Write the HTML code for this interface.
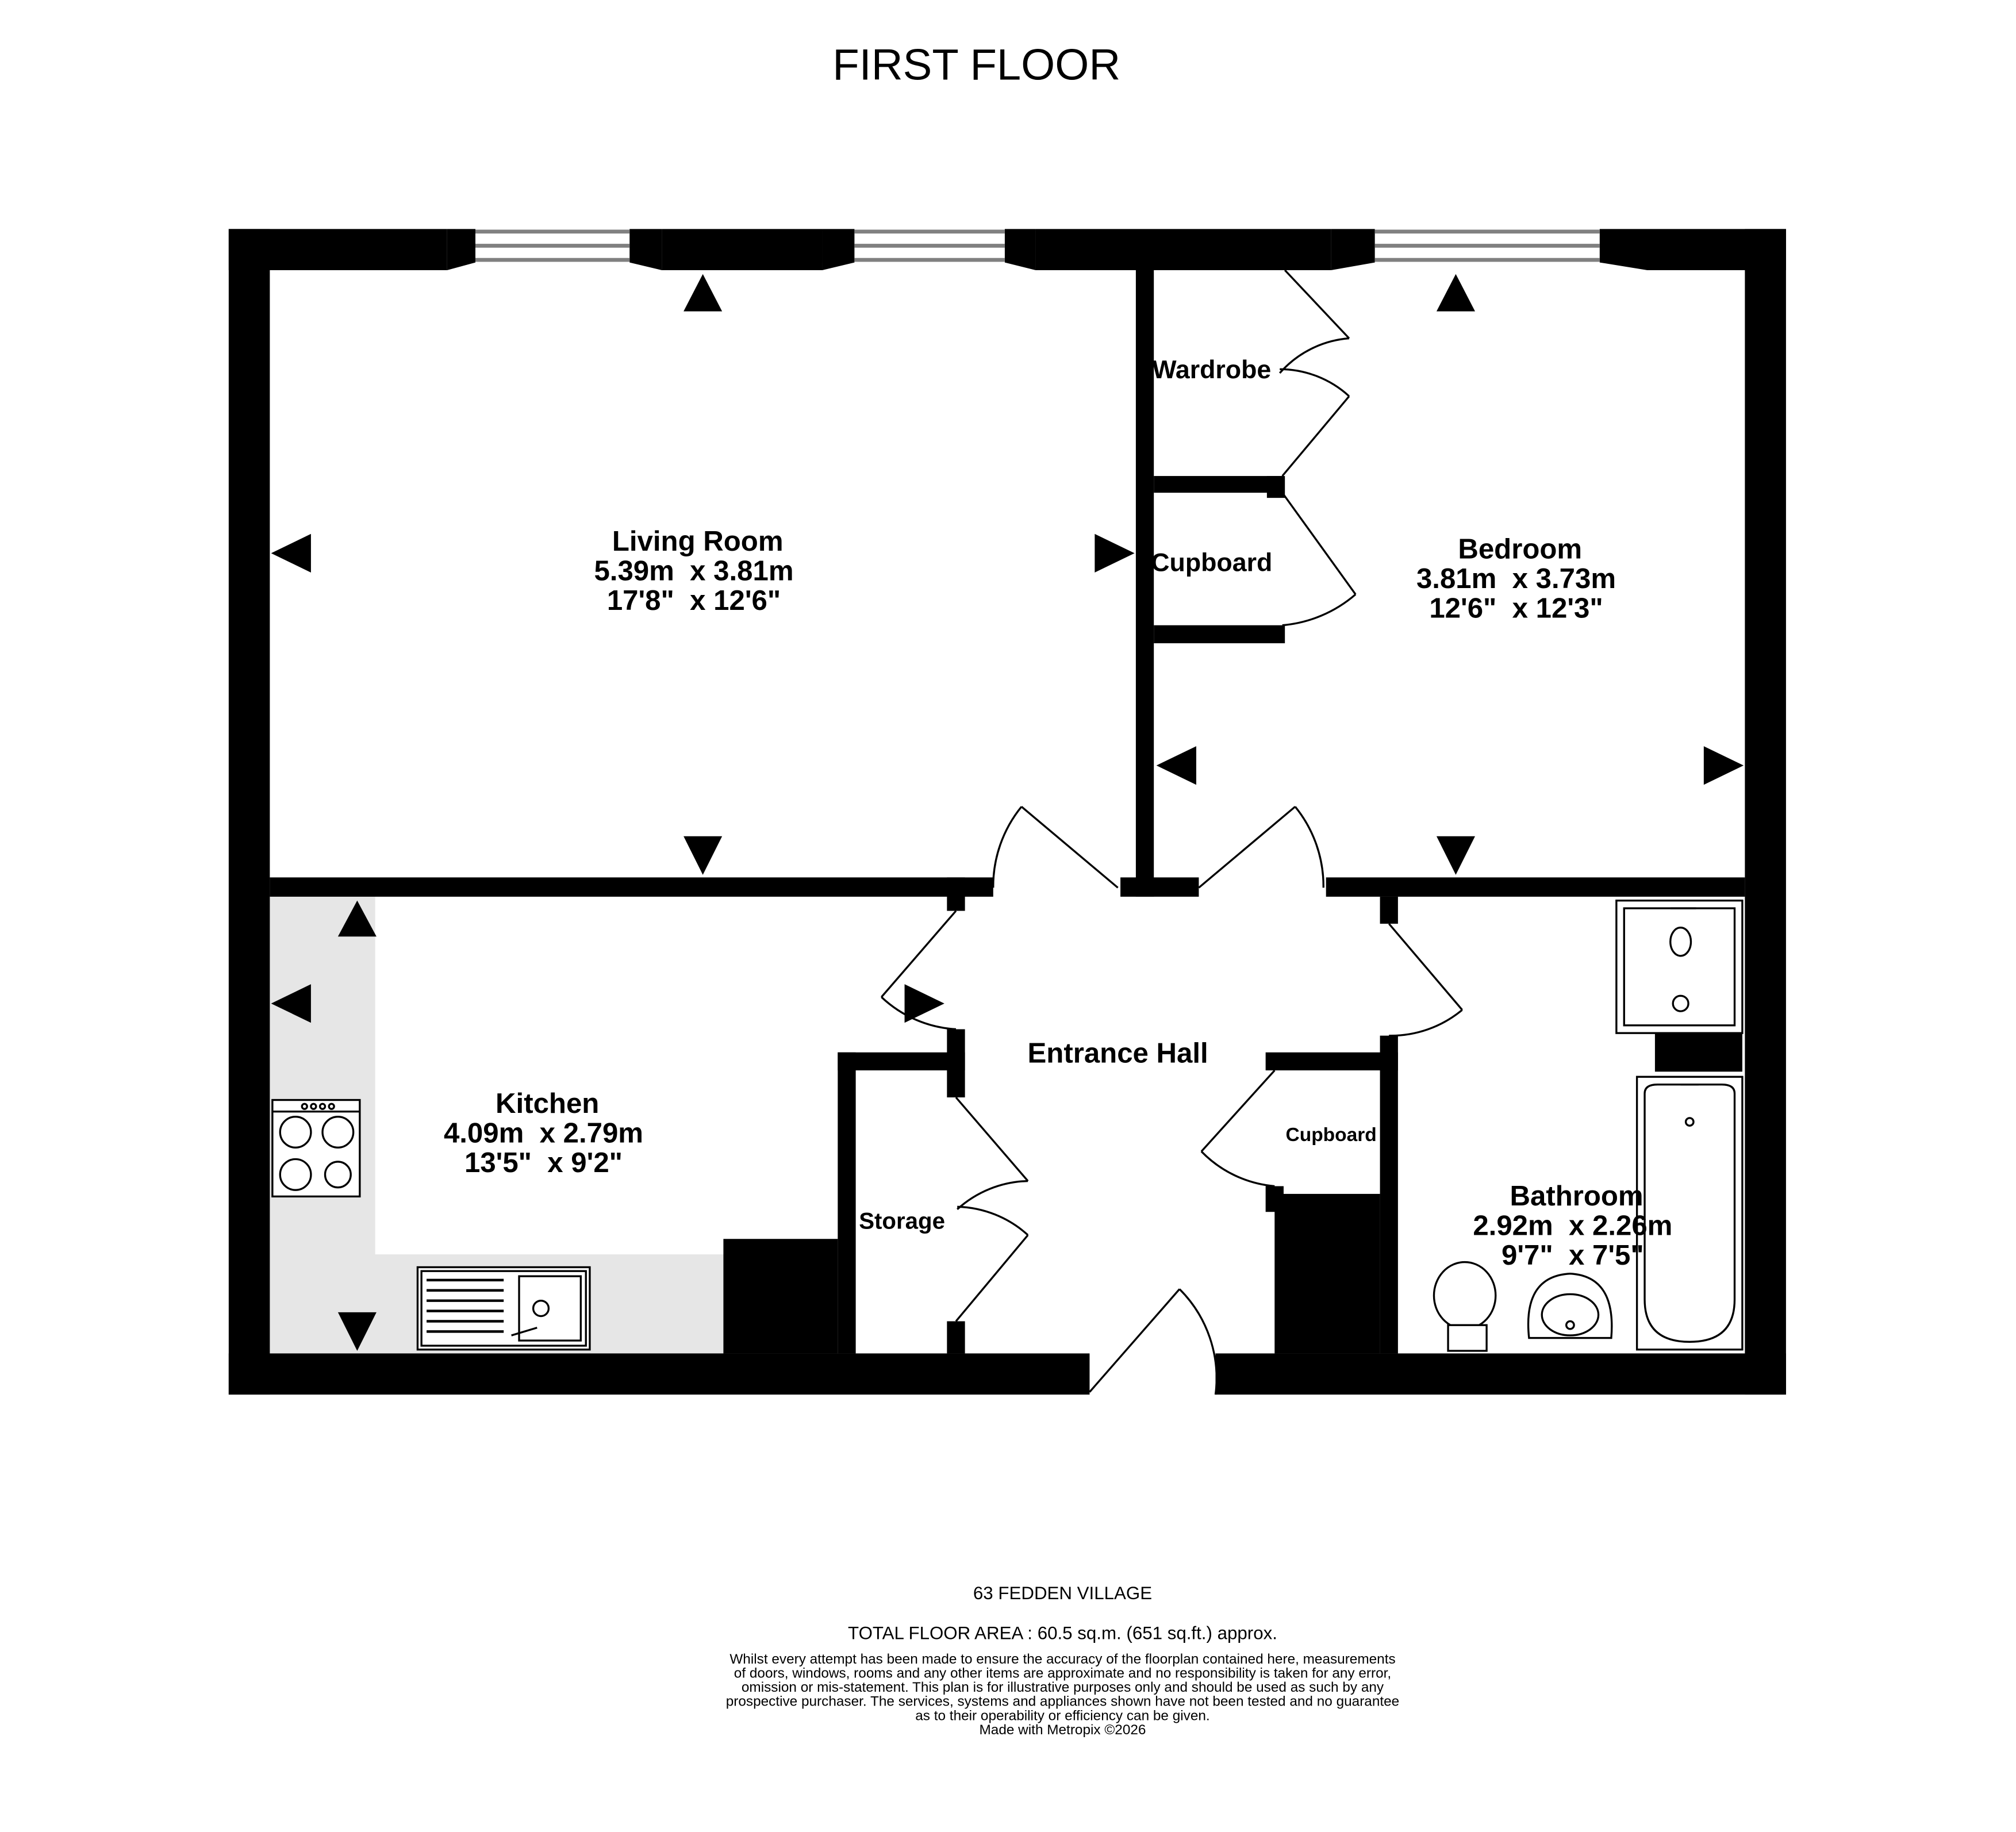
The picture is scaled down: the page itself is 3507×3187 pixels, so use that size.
<!DOCTYPE html>
<html><head><meta charset="utf-8"><style>
html,body{margin:0;padding:0;background:#fff}
svg{display:block}
text{font-family:"Liberation Sans",Arial,sans-serif}
</style></head><body>
<svg width="3507" height="3187" viewBox="0 0 1569 1424" preserveAspectRatio="none" xmlns="http://www.w3.org/2000/svg">
<rect width="1569" height="1424" fill="#fff"/>
<text x="760" y="62" font-size="34" text-anchor="middle">FIRST FLOOR</text>

<path d="M210 697H292V975H563V1052H210Z" fill="#e6e6e6"/>

<g fill="#000">
<rect x="178" y="178" width="32" height="906"/>
<rect x="1358" y="178" width="32" height="906"/>
<rect x="178" y="178" width="170" height="32"/>
<rect x="515" y="178" width="125" height="32"/>
<rect x="806" y="178" width="230" height="32"/>
<rect x="1282" y="178" width="108" height="32"/>
<rect x="178" y="1052" width="670" height="32"/>
<rect x="946" y="1052" width="444" height="32"/>
<polygon points="348,178 370,178 370,204 348,210"/>
<polygon points="490,178 515,178 515,210 490,204"/>
<polygon points="640,178 665,178 665,204 640,210"/>
<polygon points="782,178 806,178 806,210 782,204"/>
<polygon points="1036,178 1070,178 1070,204 1036,210"/>
<polygon points="1245,178 1282,178 1282,210 1245,204"/>
</g>
<g stroke="#808080" stroke-width="3">
<line x1="370" y1="180" x2="490" y2="180"/><line x1="370" y1="191" x2="490" y2="191"/><line x1="370" y1="202" x2="490" y2="202"/>
<line x1="665" y1="180" x2="782" y2="180"/><line x1="665" y1="191" x2="782" y2="191"/><line x1="665" y1="202" x2="782" y2="202"/>
<line x1="1070" y1="180" x2="1245" y2="180"/><line x1="1070" y1="191" x2="1245" y2="191"/><line x1="1070" y1="202" x2="1245" y2="202"/>
</g>

<g fill="#000">
<rect x="210" y="682" width="563" height="15"/>
<rect x="872" y="682" width="61" height="15"/>
<rect x="1032" y="682" width="326" height="15"/>
<rect x="884" y="210" width="14" height="487"/>
<rect x="898" y="370" width="100" height="13"/>
<rect x="986" y="370" width="14" height="17"/>
<rect x="898" y="486" width="102" height="14"/>
<rect x="737" y="682" width="14" height="26"/>
<rect x="737" y="800" width="14" height="53"/>
<rect x="737" y="1027" width="14" height="25"/>
<rect x="652" y="818" width="99" height="14"/>
<rect x="652" y="818" width="14" height="234"/>
<rect x="1074" y="697" width="14" height="21"/>
<rect x="1074" y="805" width="14" height="247"/>
<rect x="985" y="818" width="103" height="14"/>
<rect x="985" y="922" width="14" height="20"/>
<rect x="992" y="928" width="82" height="124"/>
<rect x="563" y="963" width="89" height="89"/>
<rect x="1288" y="803" width="68" height="30"/>
</g>

<g fill="none" stroke="#000" stroke-width="1.5">
<line x1="870" y1="690" x2="795" y2="627"/><path d="M795 627 A98 98 0 0 0 773 690"/>
<line x1="933" y1="690" x2="1008" y2="627"/><path d="M1008 627 A98 98 0 0 1 1030 690"/>
<line x1="744" y1="708" x2="686" y2="775"/><path d="M686 775 A92 92 0 0 0 744 800"/>
<line x1="1081" y1="718" x2="1138" y2="785"/><path d="M1138 785 A87 87 0 0 1 1081 805"/>
<line x1="848" y1="1082" x2="918" y2="1002"/><path d="M918 1002 A98 98 0 0 1 946 1084"/>
<line x1="992" y1="832" x2="935" y2="895"/><path d="M935 895 A90 90 0 0 0 992 922"/>
<line x1="744" y1="853" x2="800" y2="918"/><path d="M800 918 A85 85 0 0 0 745 940"/>
<line x1="744" y1="1027" x2="800" y2="960"/><path d="M800 960 A85 85 0 0 0 745 938"/>
<line x1="1000" y1="210" x2="1050" y2="263"/><path d="M1050 263 A80 80 0 0 0 996 290"/>
<line x1="998" y1="370" x2="1050" y2="308"/><path d="M1050 308 A80 80 0 0 0 996 287"/>
<line x1="998" y1="383" x2="1055" y2="462"/><path d="M1055 462 A100 100 0 0 1 998 486"/>
</g>

<g fill="#000">
<polygon points="547,213 532,242 562,242"/>
<polygon points="211,430 242,415 242,445"/>
<polygon points="883,430 852,415 852,445"/>
<polygon points="547,680 532,650 562,650"/>
<polygon points="1133,213 1118,242 1148,242"/>
<polygon points="900,595 931,580 931,610"/>
<polygon points="1357,595 1326,580 1326,610"/>
<polygon points="1133,680 1118,650 1148,650"/>
<polygon points="278,700 263,728 293,728"/>
<polygon points="211,780 242,765 242,795"/>
<polygon points="735,780 704,765 704,795"/>
<polygon points="278,1050 263,1020 293,1020"/>
</g>

<g fill="#fff" stroke="#000" stroke-width="1.5">
<rect x="212" y="855" width="68" height="75"/>
<line x1="212" y1="864" x2="280" y2="864"/>
<circle cx="230" cy="880" r="12"/><circle cx="263" cy="880" r="12"/>
<circle cx="230" cy="913" r="12"/><circle cx="263" cy="913" r="10"/>
<circle cx="237" cy="860" r="2"/><circle cx="244" cy="860" r="2"/><circle cx="251" cy="860" r="2"/><circle cx="258" cy="860" r="2"/>
</g>
<g fill="#fff" stroke="#000" stroke-width="1.5">
<rect x="325" y="985" width="134" height="64"/>
<rect x="328" y="988" width="128" height="58"/>
<rect x="404" y="992" width="48" height="50"/>
<circle cx="421" cy="1017" r="6"/>
<path d="M398 1038 L418 1032"/>
</g>
<g stroke="#000" stroke-width="2">
<line x1="332" y1="995" x2="392" y2="995"/><line x1="332" y1="1003" x2="392" y2="1003"/>
<line x1="332" y1="1011" x2="392" y2="1011"/><line x1="332" y1="1019" x2="392" y2="1019"/>
<line x1="332" y1="1027" x2="392" y2="1027"/><line x1="332" y1="1035" x2="392" y2="1035"/>
</g>

<g fill="#fff" stroke="#000" stroke-width="1.5">
<rect x="1258" y="700" width="98" height="103"/>
<rect x="1264" y="706" width="86" height="91"/>
<ellipse cx="1308" cy="732" rx="8" ry="11"/>
<circle cx="1308" cy="780" r="6"/>
<line x1="1300" y1="706" x2="1320" y2="706"/>
<rect x="1274" y="837" width="82" height="212"/>
<path d="M1280 850 Q1280 843 1290 843 L1340 843 Q1350 843 1350 850 L1350 1010 Q1350 1043 1315 1043 Q1280 1043 1280 1010 Z"/>
<circle cx="1315" cy="872" r="3"/>
<line x1="1308" y1="843" x2="1322" y2="843"/>
<ellipse cx="1140" cy="1007" rx="24" ry="26"/>
<rect x="1127" y="1030" width="30" height="20"/>
<path d="M1190 1040 Q1185 992 1222 990 Q1258 992 1254 1040 Z"/>
<ellipse cx="1222" cy="1022" rx="22" ry="16"/>
<circle cx="1222" cy="1030" r="3"/>
</g>

<g font-size="22" text-anchor="middle" font-weight="bold">
<text x="543" y="428">Living Room</text>
<text x="540" y="451">5.39m&#160; x 3.81m</text>
<text x="540" y="474">17'8"&#160; x 12'6"</text>
<text x="1183" y="434">Bedroom</text>
<text x="1180" y="457">3.81m&#160; x 3.73m</text>
<text x="1180" y="480">12'6"&#160; x 12'3"</text>
<text x="426" y="865">Kitchen</text>
<text x="423" y="888">4.09m&#160; x 2.79m</text>
<text x="423" y="911">13'5"&#160; x 9'2"</text>
<text x="870" y="826">Entrance Hall</text>
<text x="1227" y="937">Bathroom</text>
<text x="1224" y="960">2.92m&#160; x 2.26m</text>
<text x="1224" y="983">9'7"&#160; x 7'5"</text>
</g>
<g font-weight="bold" text-anchor="middle">
<text x="943" y="294" font-size="20">Wardrobe</text>
<text x="943" y="444" font-size="20">Cupboard</text>
<text x="702" y="955" font-size="18">Storage</text>
<text x="1036" y="887" font-size="15">Cupboard</text>
</g>

<g text-anchor="middle" font-size="14">
<text x="827" y="1243">63 FEDDEN VILLAGE</text>
<text x="827" y="1274">TOTAL FLOOR AREA : 60.5 sq.m. (651 sq.ft.) approx.</text>
</g>
<g text-anchor="middle" font-size="10.9">
<text x="827" y="1293">Whilst every attempt has been made to ensure the accuracy of the floorplan contained here, measurements</text>
<text x="827" y="1304">of doors, windows, rooms and any other items are approximate and no responsibility is taken for any error,</text>
<text x="827" y="1315">omission or mis-statement. This plan is for illustrative purposes only and should be used as such by any</text>
<text x="827" y="1326">prospective purchaser. The services, systems and appliances shown have not been tested and no guarantee</text>
<text x="827" y="1337">as to their operability or efficiency can be given.</text>
<text x="827" y="1348">Made with Metropix ©2026</text>
</g>
</svg>
</body></html>
